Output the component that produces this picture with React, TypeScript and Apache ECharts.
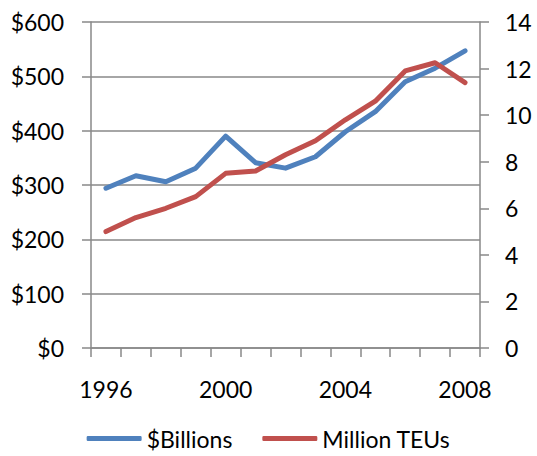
import React, { useEffect, useRef } from "react";
import * as echarts from "echarts";

const years = ["1996","1997","1998","1999","2000","2001","2002","2003","2004","2005","2006","2007","2008"];
const billions = [294, 317, 306, 331, 390, 341, 331, 352, 398, 435, 490, 515, 547];
const teus = [5.0, 5.6, 6.0, 6.5, 7.5, 7.6, 8.3, 8.9, 9.8, 10.6, 11.9, 12.25, 11.4];

const FONT = "Lato";
const GRAY = "#898989";
const FS = 23;

export default function App() {
  const ref = useRef<HTMLDivElement>(null);
  useEffect(() => {
    const chart = echarts.init(ref.current!, null, { renderer: "svg" });
    chart.setOption({
      animation: false,
      textStyle: { fontFamily: FONT },
      grid: { left: 91, right: 57, top: 22, bottom: 108, containLabel: false },
      legend: {
        bottom: 1,
        left: "center",
        itemWidth: 55,
        itemHeight: 5,
        itemGap: 30,
        icon: "roundRect",
        textStyle: { fontFamily: FONT, fontSize: FS, color: "#000" },
        data: ["$Billions", "Million TEUs"],
      },
      xAxis: {
        type: "category",
        data: years,
        boundaryGap: true,
        axisLine: { lineStyle: { color: GRAY, width: 1.5 } },
        axisTick: { show: true, interval: 0, length: 9, lineStyle: { color: GRAY, width: 1.5 } },
        axisLabel: { interval: 3, margin: 29, fontSize: FS, color: "#000", fontFamily: FONT },
        splitLine: { show: false },
      },
      yAxis: [
        {
          type: "value",
          min: 0,
          max: 600,
          interval: 100,
          position: "left",
          axisLine: { show: true, lineStyle: { color: GRAY, width: 1.5 } },
          axisTick: { show: true, length: 9, lineStyle: { color: GRAY, width: 1.5 } },
          axisLabel: { formatter: "${value}", fontSize: FS, color: "#000", margin: 27, fontFamily: FONT },
          splitLine: { show: true, lineStyle: { color: GRAY, width: 1.5 } },
        },
        {
          type: "value",
          min: 0,
          max: 14,
          interval: 2,
          position: "right",
          axisLine: { show: true, lineStyle: { color: GRAY, width: 1.5 } },
          axisTick: { show: true, length: 9, lineStyle: { color: GRAY, width: 1.5 } },
          axisLabel: { fontSize: FS, color: "#000", margin: 25, fontFamily: FONT },
          splitLine: { show: false },
        },
      ],
      series: [
        {
          name: "$Billions",
          type: "line",
          data: billions,
          yAxisIndex: 0,
          showSymbol: false,
          symbol: "none",
          itemStyle: { color: "#4F81BD" },
          lineStyle: { color: "#4F81BD", width: 5, cap: "round", join: "round" },
        },
        {
          name: "Million TEUs",
          type: "line",
          data: teus,
          yAxisIndex: 1,
          showSymbol: false,
          symbol: "none",
          itemStyle: { color: "#C0504D" },
          lineStyle: { color: "#C0504D", width: 5, cap: "round", join: "round" },
        },
      ],
    });
    return () => chart.dispose();
  }, []);
  return <div ref={ref} style={{ width: 537, height: 456, position: "absolute", left: 0, top: 0 }} />;
}
